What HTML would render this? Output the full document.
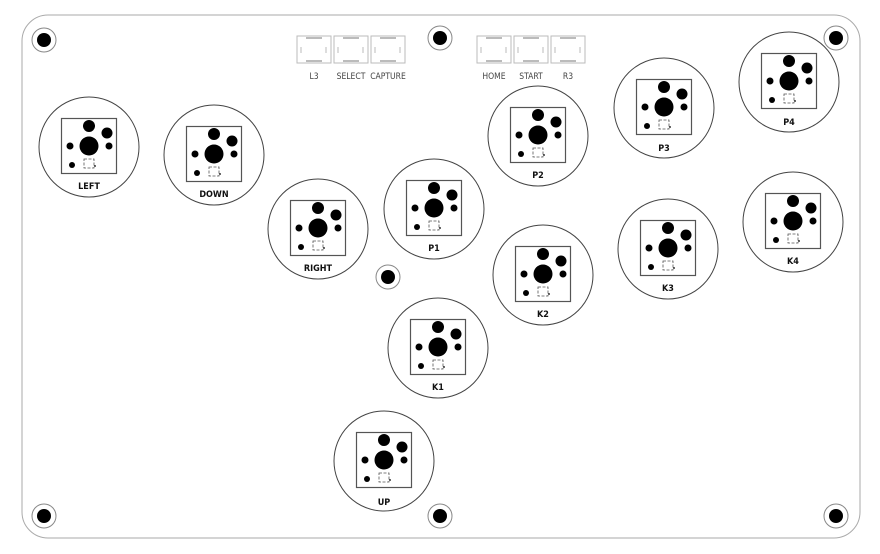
<!DOCTYPE html>
<html><head><style>body{margin:0;background:#fff}svg{display:block}text{font-family:"DejaVu Sans Condensed","Liberation Sans",sans-serif}</style></head><body>
<svg width="880" height="554" viewBox="0 0 880 554" xmlns="http://www.w3.org/2000/svg">
<rect x="22" y="15" width="838" height="523" rx="26" fill="none" stroke="#aaa" stroke-width="1"/>
<g id="holes" fill="none" stroke="#888" stroke-width="1">
</g>
<g fill="#000">
<circle cx="44" cy="40" r="7"/><circle cx="440" cy="38" r="7"/><circle cx="836" cy="38" r="7"/>
<circle cx="44" cy="516" r="7"/><circle cx="440" cy="516" r="7"/><circle cx="836" cy="516" r="7"/>
<circle cx="388" cy="277" r="7"/>
</g>
<g fill="none" stroke="#888" stroke-width="1">
<circle cx="44" cy="40" r="12"/><circle cx="440" cy="38" r="12"/><circle cx="836" cy="38" r="12"/>
<circle cx="44" cy="516" r="12"/><circle cx="440" cy="516" r="12"/><circle cx="836" cy="516" r="12"/>
<circle cx="388" cy="277" r="12"/>
</g>
<defs>
<g id="sw" fill="none" stroke="#bbb" stroke-width="1">
<rect x="0" y="0" width="34" height="27"/>
<line x1="9" y1="2" x2="25" y2="2" stroke-width="2"/>
<line x1="9" y1="25" x2="25" y2="25" stroke-width="2"/>
<line x1="4" y1="11" x2="4" y2="17"/><line x1="29" y1="11" x2="29" y2="17"/>
</g>
<g id="btn">
<circle cx="0" cy="1" r="50" fill="none" stroke="#444" stroke-width="1"/>
<rect x="-27.5" y="-27.5" width="55" height="55" fill="none" stroke="#555" stroke-width="1.2"/>
<circle cx="0" cy="0" r="9.5"/>
<circle cx="0" cy="-20" r="6"/>
<circle cx="18" cy="-13" r="5.5"/>
<circle cx="-19" cy="0" r="3.5"/>
<circle cx="20" cy="0" r="3.5"/>
<circle cx="-17" cy="19" r="3"/>
<rect x="-5" y="13" width="10" height="9" fill="none" stroke="#555" stroke-width="0.8" stroke-dasharray="3 1.5"/>
<circle cx="6" cy="20" r="0.9"/>
</g>
</defs>
<use href="#sw" x="297" y="36"/><use href="#sw" x="334" y="36"/><use href="#sw" x="371" y="36"/>
<use href="#sw" x="477" y="36"/><use href="#sw" x="514" y="36"/><use href="#sw" x="551" y="36"/>
<g font-size="8.5" fill="#444" text-anchor="middle">
<text x="314" y="79">L3</text><text x="351" y="79">SELECT</text><text x="388" y="79">CAPTURE</text>
<text x="494" y="79">HOME</text><text x="531" y="79">START</text><text x="568" y="79">R3</text>
</g>
<g fill="#000">
<use href="#btn" x="89" y="146"/><use href="#btn" x="214" y="154"/><use href="#btn" x="318" y="228"/>
<use href="#btn" x="434" y="208"/><use href="#btn" x="538" y="135"/><use href="#btn" x="664" y="107"/>
<use href="#btn" x="789" y="81"/><use href="#btn" x="438" y="347"/><use href="#btn" x="543" y="274"/>
<use href="#btn" x="668" y="248"/><use href="#btn" x="793" y="221"/><use href="#btn" x="384" y="460"/>
</g>
<g font-size="9" font-weight="bold" fill="#111" text-anchor="middle">
<text x="89" y="189">LEFT</text><text x="214" y="197">DOWN</text><text x="318" y="271">RIGHT</text>
<text x="434" y="251">P1</text><text x="538" y="178">P2</text><text x="664" y="151">P3</text>
<text x="789" y="125">P4</text><text x="438" y="390">K1</text><text x="543" y="317">K2</text>
<text x="668" y="291">K3</text><text x="793" y="264">K4</text><text x="384" y="505">UP</text>
</g>
</svg>
</body></html>
